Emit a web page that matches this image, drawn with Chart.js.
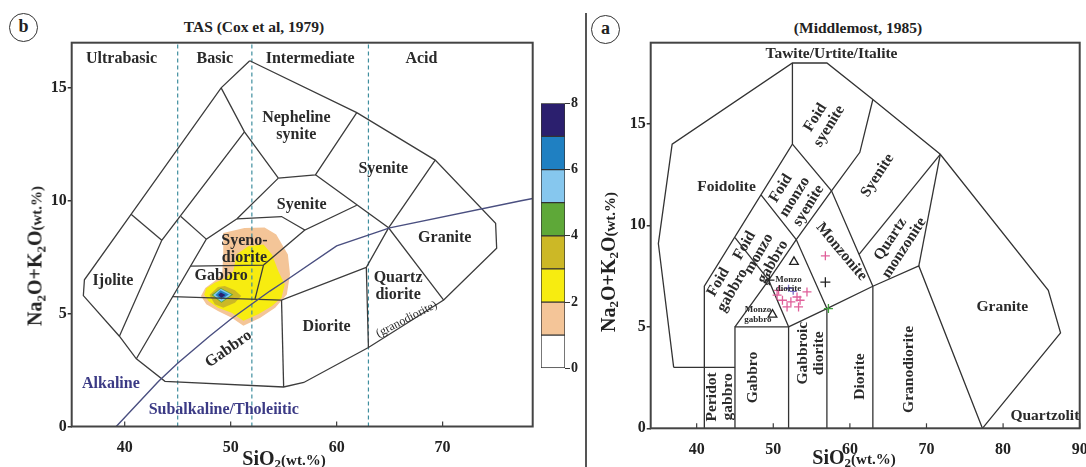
<!DOCTYPE html>
<html>
<head>
<meta charset="utf-8">
<script src="https://cdn.jsdelivr.net/npm/chart.js@4.4.1/dist/chart.umd.min.js"></script>
<style>
  html, body { margin:0; padding:0; background:#fff; width:1086px; height:467px; overflow:hidden; }
  .pane { position:absolute; }
  .ttl { position:absolute; font:bold 15.5px 'Liberation Serif','DejaVu Serif',serif; color:#222; white-space:nowrap; transform:translate(-50%,-50%); }
  .circ { position:absolute; width:27px; height:27px; border:1.6px solid #333; border-radius:50%;
          font:bold 18px 'Liberation Serif',serif; text-align:center; line-height:25px; color:#222; }
  .ax { position:absolute; font:bold 20px 'Liberation Serif','DejaVu Serif',serif; color:#222; white-space:nowrap; }
  .ax.y { transform:translate(-50%,-50%) rotate(-90deg); }
  .ax.x { transform:translate(-50%,-50%); }
  .ax sub { font-size:13px; vertical-align:-0.3em; line-height:0; }
  .ax .u { font-size:15px; }
  .divider { position:absolute; left:585px; top:13px; width:2px; height:454px; background:#555; }
</style>
</head>
<body>
<div class="circ" style="left:9px;top:13px">b</div>
<div class="ttl" style="left:254px;top:27px">TAS (Cox et al, 1979)</div>
<div class="circ" style="left:591px;top:15px">a</div>
<div class="ttl" style="left:858px;top:28px">(Middlemost, 1985)</div>
<div class="divider"></div>

<div class="pane" style="left:0;top:0;width:545px;height:467px"><canvas id="cox"></canvas></div>
<div class="pane" style="left:590px;top:0;width:496px;height:467px"><canvas id="mid"></canvas></div>
<div class="pane" style="left:535px;top:95px;width:60px;height:280px"><canvas id="scale"></canvas></div>

<div class="ax y" style="left:35px;top:256px">Na<sub>2</sub>O+K<sub>2</sub>O<span class="u">(wt.%)</span></div>
<div class="ax x" style="left:284px;top:458px">SiO<sub>2</sub><span class="u">(wt.%)</span></div>
<div class="ax y" style="left:608px;top:262px">Na<sub>2</sub>O+K<sub>2</sub>O<span class="u">(wt.%)</span></div>
<div class="ax x" style="left:854px;top:457px">SiO<sub>2</sub><span class="u">(wt.%)</span></div>

<script>
const FONT = "'Liberation Serif', 'DejaVu Serif', serif";

// ---------- Cox et al. (1979) plutonic TAS: SiO2 vs Na2O+K2O ----------
const coxXRange = [35, 78.5];
const coxYRange = [0, 17];
const coxXTicks = [40, 50, 60, 70];
const coxYTicks = [0, 5, 10, 15];
const silicaDivisions = [45, 52, 63];

const coxOutline = [[51.8,16.2],[61.9,13.9],[69.3,11.8],[75.0,9.0],[75.1,7.9],[70.1,5.6],[63.0,3.5],
  [56.9,1.95],[55.0,1.75],[43.8,2.0],[41.1,3.0],[39.5,4.0],[36.1,5.8],[36.2,6.5],[40.6,9.4],[49.1,15.0],[51.8,16.2]];
const coxFieldLines = [
  [[40.6,9.4],[43.5,8.25]],
  [[39.5,4.0],[43.5,8.25],[51.3,13.05]],
  [[49.1,15.0],[51.3,13.05],[54.5,11.0]],
  [[45.3,9.3],[47.7,8.3]],
  [[41.1,3.0],[47.7,8.3],[50.6,9.2],[54.5,11.0]],
  [[54.5,11.0],[58.0,11.15],[61.9,13.9]],
  [[58.0,11.15],[64.9,8.8],[70.1,5.6]],
  [[69.3,11.8],[64.9,8.8],[62.8,7.05],[63.0,3.5]],
  [[50.6,9.2],[54.8,9.3],[57.0,8.7],[61.9,9.8]],
  [[46.2,7.1],[53.1,7.15],[57.0,8.7]],
  [[53.1,7.15],[52.3,5.65]],
  [[44.5,5.75],[54.8,5.6],[62.8,7.05]],
  [[54.8,5.6],[55.0,1.75]]
];
// alkaline / subalkaline divide (Irvine & Baragar, 1971)
const alkalineDivide = [[39.2,0],[40,0.4],[43.2,2],[45,2.8],[48,4],[50,4.75],[53.7,6],[55,6.4],[60,8],[65,8.8],[77.4,10],[78.5,10.1]];

// sample density (count of analyses), contour levels 1..7
const densityLevel1 = [[49.3,8.57],[51.3,8.79],[53.2,8.82],[54.3,8.5],[55.4,7.62],[55.6,6.74],[55.3,5.85],[54.2,5.26],
  [52.8,4.82],[51.2,4.46],[50.1,4.82],[48.8,5.12],[47.7,5.41],[47.2,5.78],[47.6,6.14],[48.5,6.44],[49.2,6.74],[49.3,7.62]];
const densityLevel2 = [[50.55,7.62],[51.65,7.98],[53.1,8.06],[53.9,7.62],[54.5,6.88],[55.1,6.29],[54.8,5.7],[53.9,5.34],
  [52.6,4.97],[51.2,4.68],[50.1,5.04],[48.8,5.26],[47.9,5.56],[47.5,5.85],[47.7,6.12],[48.5,6.37],[49.45,6.56],[50.25,6.88]];
const densityLevel3 = [[48.0,5.82],[48.8,6.18],[49.45,6.22],[50.4,6.03],[51.0,5.78],[50.4,5.48],[49.3,5.26],[48.5,5.41]];
const densityLevel4 = [[48.19,5.82],[49.07,6.14],[50.24,5.85],[49.13,5.48]];
const densityLevel5 = [[48.35,5.82],[49.07,6.10],[50.08,5.85],[49.13,5.53]];
const densityLevel6 = [[48.57,5.82],[49.04,6.03],[49.83,5.85],[49.13,5.62]];
const densityLevel7 = [[48.82,5.82],[49.07,5.94],[49.51,5.82],[49.13,5.70]];
const densityContours = [densityLevel1, densityLevel2, densityLevel3, densityLevel4, densityLevel5, densityLevel6, densityLevel7];
const densityColors = ['#ffffff','#f4c598','#f7ec10','#ccb826','#5ea838','#86c7ee','#1f80c2','#2b1f6e'];
const densityTicks = [0, 2, 4, 6, 8];

const coxLabels = [
  {t:'Ultrabasic', x:39.7, y:16.3},
  {t:'Basic', x:48.5, y:16.3},
  {t:'Intermediate', x:57.5, y:16.3},
  {t:'Acid', x:68.0, y:16.3},
  {t:'Nepheline\nsynite', x:56.2, y:13.3},
  {t:'Syenite', x:64.4, y:11.4},
  {t:'Syenite', x:56.7, y:9.8},
  {t:'Syeno-\ndiorite', x:51.3, y:7.85},
  {t:'Gabbro', x:49.1, y:6.66},
  {t:'Ijolite', x:38.9, y:6.44},
  {t:'Granite', x:70.2, y:8.35},
  {t:'Quartz\ndiorite', x:65.8, y:6.2},
  {t:'(granodiorite)', x:66.6, y:4.75, rot:-27, size:12, weight:'normal'},
  {t:'Diorite', x:59.05, y:4.41},
  {t:'Gabbro', x:49.8, y:3.43, rot:-35},
  {t:'Alkaline', x:38.7, y:1.9, color:'#3b3a85'},
  {t:'Subalkaline/Tholeiitic', x:49.35, y:0.75, color:'#3b3a85'}
];

// ---------- Middlemost (1985) plutonic TAS ----------
const midXRange = [34, 90];
const midYRange = [0, 19];
const midXTicks = [40, 50, 60, 70, 80, 90];
const midYTicks = [0, 5, 10, 15];

const midOutline = [[37,3],[35,9.1],[36.8,14],[52.5,18],[57,18],[63,16.2],[71.8,13.5],[85.9,6.8],[87.5,4.7],[77.3,0]];
const midFieldLines = [
  [[37,3],[45,3]],
  [[41,0],[41,7],[52.5,14],[52.5,18]],
  [[45,0],[45,5],[52,5],[52,0]],
  [[45,5],[49.4,7.3],[53,9.3],[57.6,11.7],[61.3,13.6],[63,16.2]],
  [[45,9.4],[49.4,7.3],[52,5]],
  [[48.4,11.5],[53,9.3],[57,5.9]],
  [[52.5,14],[57.6,11.7],[63,7]],
  [[52,5],[57,5.9],[63,7],[69,8],[77.3,0]],
  [[57,0],[57,5.9]],
  [[63,0],[63,7]],
  [[69,8],[71.8,13.5]],
  [[61.2,8.57],[71.8,13.5]]
];

// analysed samples
const samplesPink = [[50.5,6.56],[51.2,6.31],[52.3,6.23],[53.1,6.47],[53.5,6.31],[53.3,5.98],[51.8,5.98],[54.4,6.72],[50.7,6.8],[56.8,8.5]];
const samplesBlack = [[56.8,7.2],[49.5,7.3]];
const samplesTriangle = [[52.7,8.2],[49.9,5.6]];
const samplesGreen = [[57.2,5.9]];
const samplesViolet = [[52.0,6.9],[52.6,6.75]];

const midLabels = [
  {t:'Tawite/Urtite/Italite', x:57.6, y:18.45},
  {t:'Foid\nsyenite', x:56.4, y:15.1, rot:-58},
  {t:'Foidolite', x:43.9, y:11.9},
  {t:'Foid\nmonzo\nsyenite', x:52.8, y:11.4, rot:-58},
  {t:'Foid\nmonzo\ngabbro', x:48.1, y:8.6, rot:-60},
  {t:'Foid\ngabbro', x:43.75, y:7.0, rot:-60},
  {t:'Syenite', x:63.6, y:12.45, rot:-57},
  {t:'Monzonite', x:58.9, y:8.7, rot:50},
  {t:'Quartz\nmonzonite', x:66.2, y:9.1, rot:-57},
  {t:'Granite', x:79.9, y:6.0},
  {t:'Gabbro', x:47.3, y:2.5, rot:-90},
  {t:'Peridot\ngabbro', x:43.0, y:1.55, rot:-90},
  {t:'Gabbroic\ndiorite', x:54.9, y:3.7, rot:-90},
  {t:'Diorite', x:61.3, y:2.55, rot:-90},
  {t:'Granodiorite', x:67.7, y:2.9, rot:-90},
  {t:'Quartzolite', x:85.9, y:0.6},
  {t:'Monzo\ndiorite', x:52.0, y:7.1, size:9},
  {t:'Monzo\ngabbro', x:48.0, y:5.6, size:9}
];

// ---------- helpers ----------
const toPts = a => a.map(([x, y]) => ({x, y}));
const closed = a => a.concat([a[0]]);

function lineSet(points, color, width, extra) {
  return Object.assign({
    data: toPts(points), showLine: true, borderColor: color, borderWidth: width,
    pointRadius: 0, fill: false, tension: 0, order: 1
  }, extra || {});
}

const framePlugin = {
  id: 'frame',
  afterDatasetsDraw(chart) {
    const {ctx, chartArea: a, scales} = chart;
    ctx.save();
    ctx.strokeStyle = '#3c3c3c';
    ctx.lineWidth = 1.2;
    // short inward tick marks on the SiO2 axis
    scales.x.ticks.forEach(t => {
      const px = scales.x.getPixelForValue(t.value);
      ctx.beginPath(); ctx.moveTo(px, a.bottom); ctx.lineTo(px, a.bottom - 5); ctx.stroke();
    });
    ctx.lineWidth = 2;
    ctx.strokeStyle = '#444';
    ctx.strokeRect(a.left, a.top, a.right - a.left, a.bottom - a.top);
    ctx.restore();
  }
};

const labelPlugin = {
  id: 'fieldLabels',
  afterDatasetsDraw(chart, args, opts) {
    const {ctx, chartArea: a, scales: {x, y}} = chart;
    ctx.save();
    ctx.beginPath(); ctx.rect(a.left, a.top, a.right - a.left, a.bottom - a.top); ctx.clip();
    ctx.textAlign = 'center';
    ctx.textBaseline = 'middle';
    (opts.items || []).forEach(it => {
      const size = it.size || opts.size;
      ctx.font = (it.weight || 'bold') + ' ' + size + 'px ' + FONT;
      ctx.fillStyle = it.color || '#2a2a2a';
      const lines = it.t.split('\n');
      const lh = size * 1.05;
      ctx.save();
      ctx.translate(x.getPixelForValue(it.x), y.getPixelForValue(it.y));
      ctx.rotate((it.rot || 0) * Math.PI / 180);
      lines.forEach((s, i) => ctx.fillText(s, 0, (i - (lines.length - 1) / 2) * lh));
      ctx.restore();
    });
    ctx.restore();
  }
};

function tasOptions(c) {
  const tickFont = {family: FONT, size: 16, weight: 'bold'};
  return {
    responsive: true, maintainAspectRatio: false, animation: false,
    layout: {padding: c.padding},
    plugins: {legend: {display: false}, tooltip: {enabled: false}, fieldLabels: {items: c.labels, size: c.labelSize}},
    scales: {
      x: {
        type: 'linear', min: c.xr[0], max: c.xr[1],
        afterBuildTicks: s => { s.ticks = c.xt.map(v => ({value: v})); },
        afterFit: s => { s.height = c.xh; s.paddingLeft = 0; s.paddingRight = 0; },
        grid: {display: false}, border: {display: false},
        ticks: {font: tickFont, color: '#222', padding: 4, maxRotation: 0, autoSkip: false}
      },
      y: {
        type: 'linear', min: c.yr[0], max: c.yr[1],
        afterBuildTicks: s => { s.ticks = c.yt.map(v => ({value: v})); },
        afterFit: s => { s.width = c.yw; s.paddingTop = 0; s.paddingBottom = 0; },
        grid: {drawOnChartArea: false, tickLength: 4, color: '#333', lineWidth: 1.5},
        border: {display: false},
        ticks: {font: tickFont, color: '#222', padding: 1, autoSkip: false}
      }
    }
  };
}

// ---------- left: Cox diagram with sample density ----------
const coxSets = [];
densityContours.forEach((poly, i) => {
  coxSets.push({
    data: toPts(closed(poly)), showLine: true, borderWidth: 0, borderColor: 'rgba(0,0,0,0)',
    backgroundColor: densityColors[i + 1], fill: 'shape', pointRadius: 0, tension: 0, order: 10 - i
  });
});
silicaDivisions.forEach(v => {
  coxSets.push(lineSet([[v, coxYRange[0]], [v, coxYRange[1]]], '#3f8e9e', 1.2, {borderDash: [4, 3], order: 2}));
});
coxSets.push(lineSet(coxOutline, '#3c3c3c', 1.3));
coxFieldLines.forEach(l => coxSets.push(lineSet(l, '#3c3c3c', 1.3)));
coxSets.push(lineSet(alkalineDivide, '#4a4f80', 1.4, {order: 0.5}));

new Chart(document.getElementById('cox'), {
  type: 'scatter',
  data: {datasets: coxSets},
  options: tasOptions({
    padding: {left: 0, top: 42.7, right: 12.3, bottom: 0},
    xr: coxXRange, yr: coxYRange, xt: coxXTicks, yt: coxYTicks,
    xh: 40.5, yw: 71.7, labels: coxLabels, labelSize: 16
  }),
  plugins: [labelPlugin, framePlugin]
});

// ---------- right: Middlemost diagram with samples ----------
const midSets = [];
midSets.push(lineSet(midOutline, '#333', 1.3));
midFieldLines.forEach(l => midSets.push(lineSet(l, '#333', 1.3)));
const marker = (pts, style, color, r, extra) => Object.assign({
  data: toPts(pts), showLine: false, pointStyle: style, pointRadius: r,
  pointBorderColor: color, pointBackgroundColor: 'rgba(0,0,0,0)', pointBorderWidth: 1.3, order: 0
}, extra || {});
midSets.push(marker(samplesPink, 'cross', '#e0609a', 4.5));
midSets.push(marker(samplesViolet, 'cross', '#7b6fc4', 3.5));
midSets.push(marker(samplesBlack, 'cross', '#222', 5));
midSets.push(marker(samplesGreen, 'cross', '#3f9e3a', 4.5));
midSets.push(marker(samplesTriangle, 'triangle', '#222', 5));

new Chart(document.getElementById('mid'), {
  type: 'scatter',
  data: {datasets: midSets},
  options: tasOptions({
    padding: {left: 0, top: 42.7, right: 2, bottom: 0},
    xr: midXRange, yr: midYRange, xt: midXTicks, yt: midYTicks,
    xh: 38.7, yw: 60.7, labels: midLabels, labelSize: 15.5
  }),
  plugins: [labelPlugin, framePlugin]
});

// ---------- density colour scale ----------
new Chart(document.getElementById('scale'), {
  type: 'bar',
  data: {
    labels: [''],
    datasets: densityColors.map(col => ({
      data: [1], backgroundColor: col, borderColor: '#333', borderWidth: 1, borderSkipped: false,
      barPercentage: 1, categoryPercentage: 1
    }))
  },
  options: {
    responsive: true, maintainAspectRatio: false, animation: false,
    layout: {padding: {left: 6, top: 8.3, right: 0, bottom: 6.7}},
    plugins: {legend: {display: false}, tooltip: {enabled: false}},
    scales: {
      x: {stacked: true, display: false},
      y: {
        stacked: true, position: 'right', min: 0, max: densityColors.length,
        afterBuildTicks: s => { s.ticks = densityTicks.map(v => ({value: v})); },
        afterFit: s => { s.width = 30; s.paddingTop = 0; s.paddingBottom = 0; },
        grid: {drawOnChartArea: false, tickLength: 5, color: '#333'},
        border: {display: false},
        ticks: {font: {family: FONT, size: 14, weight: 'bold'}, color: '#222', padding: 1}
      }
    }
  }
});
</script>
</body>
</html>
